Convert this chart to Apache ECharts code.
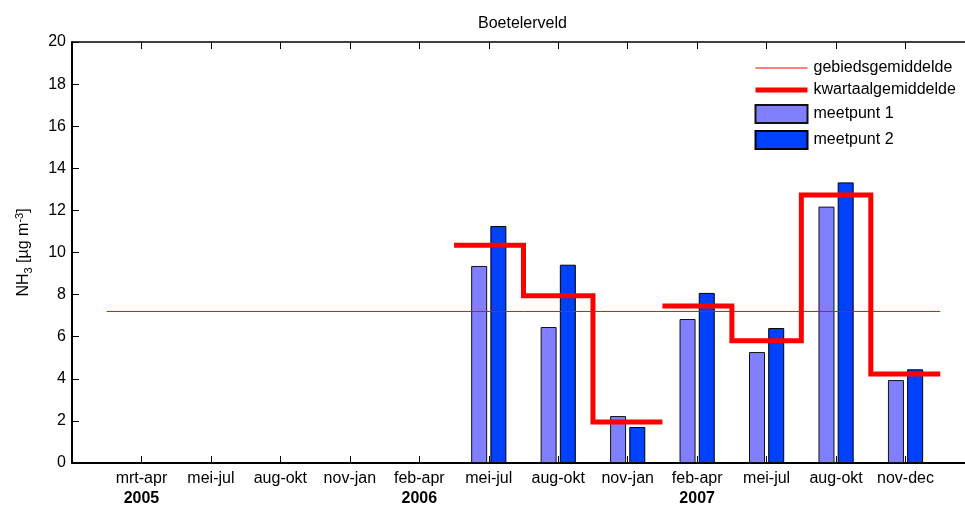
<!DOCTYPE html>
<html>
<head>
<meta charset="utf-8">
<script src="https://cdn.jsdelivr.net/npm/echarts@6/dist/echarts.min.js"></script>
<style>html,body{margin:0;padding:0;background:#fff;}#c{width:965px;height:506px;}</style>
</head>
<body>
<div id="c"></div>
<script>
var categories = ['mrt-apr','mei-jul','aug-okt','nov-jan','feb-apr','mei-jul','aug-okt','nov-jan','feb-apr','mei-jul','aug-okt','nov-dec'];
var yearLabels = ['2005','','','','2006','','','','2007','','',''];
var meetpunt1 = [null,null,null,null,null,9.36,6.46,2.23,6.84,5.27,12.18,3.94];
var meetpunt2 = [null,null,null,null,null,11.26,9.42,1.71,8.08,6.41,13.33,4.45];
var kwartaal  = [null,null,null,null,null,10.34,7.95,1.95,7.46,5.81,12.73,4.23];
var kwartaalGroup = [0,0,0,0,0,1,1,1,2,2,2,2];
var gebied = 7.2;
var yTicks = [0,20,2];

var FONT = 'Liberation Sans, Arial, sans-serif';

function barData(arr){
  var out = [];
  arr.forEach(function(v,i){ if(v!==null) out.push([i+1, v]); });
  return out;
}
var stepData = [];
var prevG = null;
kwartaal.forEach(function(v,i){
  if(v===null) return;
  if(prevG!==null && kwartaalGroup[i]!==prevG) stepData.push([i+0.5,'-']);
  stepData.push([i+0.5, v]);
  stepData.push([i+1.5, v]);
  prevG = kwartaalGroup[i];
});
var gebiedData = [[0.5, gebied],[categories.length+0.5, gebied]];

var chart = echarts.init(document.getElementById('c'), null, {renderer:'canvas'});
var xCommon = {
  type:'value', min:0, max:categories.length+1, interval:1,
  splitLine:{show:false}
};
chart.setOption({
  animation:false,
  backgroundColor:'#fff',
  textStyle:{fontFamily:FONT},
  title:{
    text:'Boetelerveld', left:473, top:11,
    textStyle:{fontFamily:FONT, fontSize:16, fontWeight:'normal', color:'#000'}
  },
  grid:{left:72, right:-10, top:42, bottom:43, containLabel:false, outerBoundsMode:'none'},
  legend:{
    orient:'vertical', left:748, top:55, itemWidth:52, itemHeight:18, itemGap:6,
    textStyle:{fontFamily:FONT, fontSize:16, color:'#000', padding:[0,0,0,1]},
    data:[
      {name:'gebiedsgemiddelde', itemStyle:{opacity:0}, lineStyle:{width:1, color:'#FF0000'}},
      {name:'kwartaalgemiddelde', itemStyle:{opacity:0}, lineStyle:{width:5, color:'#FF0000'}},
      {name:'meetpunt 1', icon:'rect'},
      {name:'meetpunt 2', icon:'rect'}
    ]
  },
  xAxis:[
    Object.assign({}, xCommon, {
      position:'bottom',
      axisLine:{lineStyle:{color:'#000', width:2}},
      axisTick:{inside:true, length:7, lineStyle:{color:'#000'}},
      axisLabel:{
        margin:6, color:'#000', fontFamily:FONT, fontSize:16, lineHeight:20,
        formatter:function(v){
          var i = Math.round(v)-1;
          if(i<0 || i>=categories.length) return '';
          return categories[i] + (yearLabels[i] ? '\n{y|'+yearLabels[i]+'}' : '');
        },
        rich:{y:{fontWeight:'bold', fontFamily:FONT, fontSize:16, lineHeight:20, color:'#000'}}
      }
    }),
    Object.assign({}, xCommon, {
      position:'top',
      axisLine:{lineStyle:{color:'#000', width:1.5}},
      axisTick:{inside:true, length:7, lineStyle:{color:'#000'}},
      axisLabel:{show:false}
    })
  ],
  yAxis:{
    type:'value', min:yTicks[0], max:yTicks[1], interval:yTicks[2],
    splitLine:{show:false},
    axisLine:{show:true, lineStyle:{color:'#000', width:2}},
    axisTick:{show:true, inside:true, length:7, lineStyle:{color:'#000'}},
    axisLabel:{margin:6, color:'#000', fontFamily:FONT, fontSize:16},
    name:'NH{sub|3} [µg m{sup|-3}]',
    nameLocation:'middle', nameGap:38, nameRotate:90,
    nameTextStyle:{
      fontFamily:FONT, fontSize:16, color:'#000',
      rich:{
        sub:{fontFamily:FONT, fontSize:11, color:'#000', padding:[9,0,0,0]},
        sup:{fontFamily:FONT, fontSize:11, color:'#000', padding:[0,0,9,0]}
      }
    }
  },
  series:[
    {
      name:'meetpunt 1', type:'bar', xAxisIndex:0, data:barData(meetpunt1),
      barWidth:16, barGap:'20%', z:2,
      itemStyle:{color:'#8080FF', borderColor:'#111', borderWidth:1}
    },
    {
      name:'meetpunt 2', type:'bar', xAxisIndex:0, data:barData(meetpunt2),
      barWidth:16, barGap:'20%', z:2,
      itemStyle:{color:'#0040FF', borderColor:'#000', borderWidth:1}
    },
    {
      name:'gebiedsgemiddelde', type:'line', xAxisIndex:0, data:gebiedData,
      symbol:'none', z:4, color:'#FF0000',
      lineStyle:{color:'#FF0000', width:1}
    },
    {
      name:'kwartaalgemiddelde', type:'line', xAxisIndex:0, data:stepData,
      symbol:'none', z:5, color:'#FF0000', connectNulls:false,
      lineStyle:{color:'#FF0000', width:5, join:'miter', cap:'butt'}
    }
  ]
});
</script>
</body>
</html>
